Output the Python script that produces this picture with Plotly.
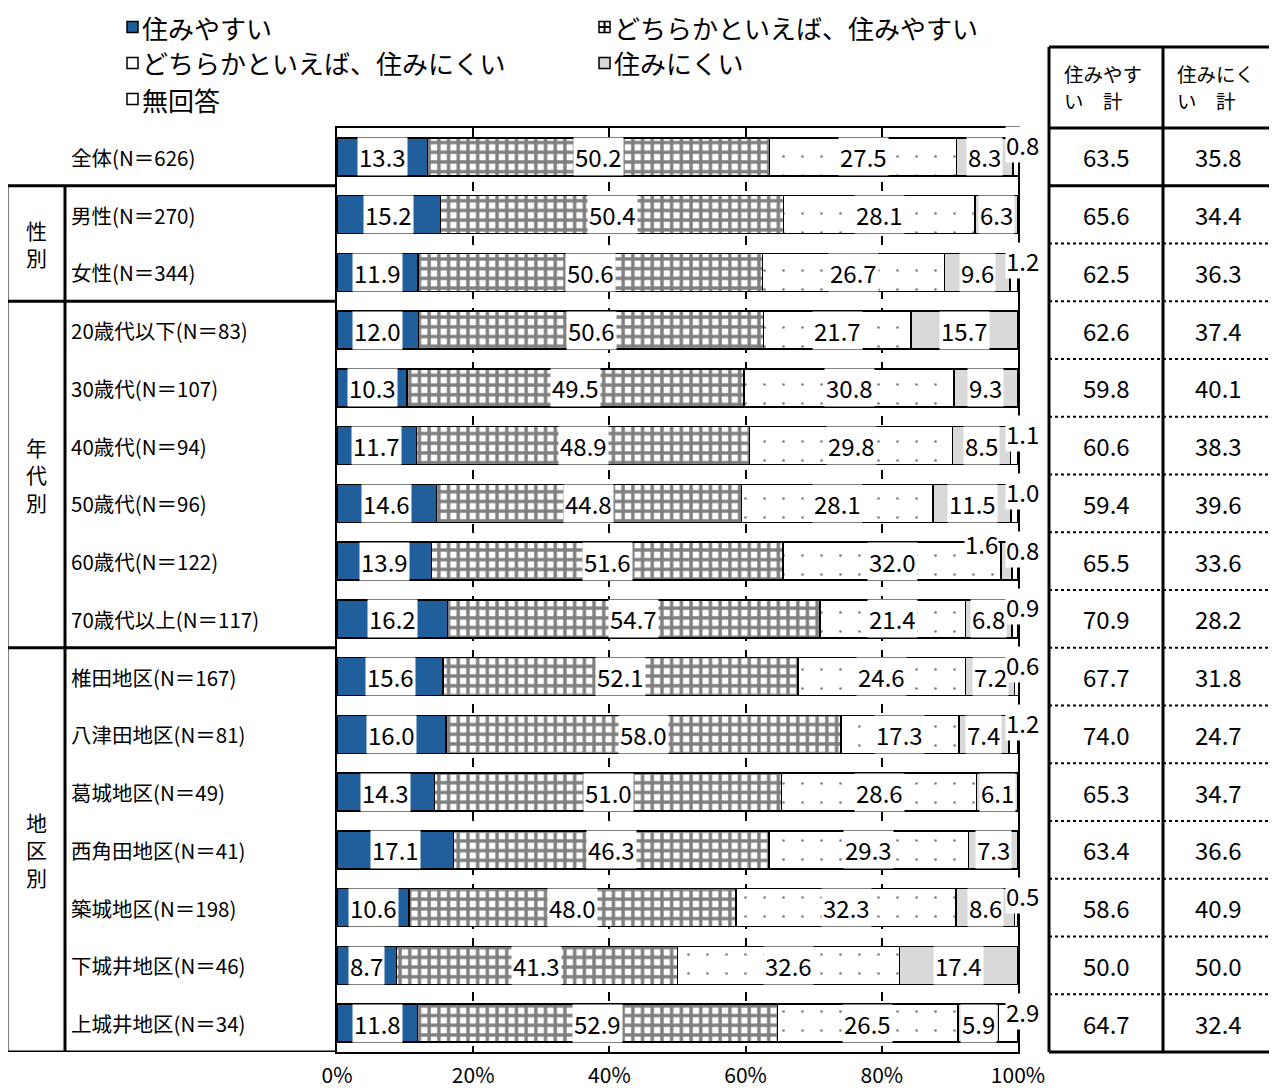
import plotly.graph_objects as go

# ---------------- data ----------------
categories = ["全体(N＝626)", "男性(N＝270)", "女性(N＝344)", "20歳代以下(N＝83)", "30歳代(N＝107)",
              "40歳代(N＝94)", "50歳代(N＝96)", "60歳代(N＝122)", "70歳代以上(N＝117)",
              "椎田地区(N＝167)", "八津田地区(N＝81)", "葛城地区(N＝49)", "西角田地区(N＝41)",
              "築城地区(N＝198)", "下城井地区(N＝46)", "上城井地区(N＝34)"]
series_names = ["住みやすい", "どちらかといえば、住みやすい", "どちらかといえば、住みにくい", "住みにくい", "無回答"]
v_easy = [13.3, 15.2, 11.9, 12.0, 10.3, 11.7, 14.6, 13.9, 16.2, 15.6, 16.0, 14.3, 17.1, 10.6, 8.7, 11.8]
v_rather_easy = [50.2, 50.4, 50.6, 50.6, 49.5, 48.9, 44.8, 51.6, 54.7, 52.1, 58.0, 51.0, 46.3, 48.0, 41.3, 52.9]
v_rather_hard = [27.5, 28.1, 26.7, 21.7, 30.8, 29.8, 28.1, 32.0, 21.4, 24.6, 17.3, 28.6, 29.3, 32.3, 32.6, 26.5]
v_hard = [8.3, 6.3, 9.6, 15.7, 9.3, 8.5, 11.5, 1.6, 6.8, 7.2, 7.4, 6.1, 7.3, 8.6, 17.4, 5.9]
v_none = [0.8, 0.0, 1.2, 0.0, 0.0, 1.1, 1.0, 0.8, 0.9, 0.6, 1.2, 0.0, 0.0, 0.5, 0.0, 2.9]
total_easy = [63.5, 65.6, 62.5, 62.6, 59.8, 60.6, 59.4, 65.5, 70.9, 67.7, 74.0, 65.3, 63.4, 58.6, 50.0, 64.7]
total_hard = [35.8, 34.4, 36.3, 37.4, 40.1, 38.3, 39.6, 33.6, 28.2, 31.8, 24.7, 34.7, 36.6, 40.9, 50.0, 32.4]
table_headers = [("住みやす", "い　計"), ("住みにく", "い　計")]
groups = [("性<br>別", 1, 2), ("年<br>代<br>別", 3, 8), ("地<br>区<br>別", 9, 15)]
x_ticks = [0, 20, 40, 60, 80, 100]
x_ticktext = ["0%", "20%", "40%", "60%", "80%", "100%"]

# ---------------- style ----------------
OFF = 8  # page body margin
W, H = 1277 - OFF, 1090 - OFF
PX0, PX1, PY0, PY1 = 337, 1018, 128, 1052   # plot area in screen pixels
JP = "Noto Sans CJK JP, Noto Sans, sans-serif"
NUM = "Noto Sans CJK JP, Noto Sans, sans-serif"
BLUE = "#215f9c"
GRAY = "#d9d9d9"


def px(x):
    return (x - PX0) / (PX1 - PX0)


def py(y):
    return (PY1 - y) / (PY1 - PY0)


series_vals = [v_easy, v_rather_easy, v_rather_hard, v_hard, v_none]
markers = [
    dict(color=BLUE, line=dict(color="black", width=1.5)),
    dict(color="white", line=dict(color="black", width=1.5),
         pattern=dict(shape="+", size=9.7, solidity=0.58, fgcolor="black", bgcolor="white")),
    dict(color="white", line=dict(color="black", width=1.5),
         pattern=dict(shape=".", size=19, solidity=0.016, fgcolor="black", bgcolor="white")),
    dict(color=GRAY, line=dict(color="black", width=1.5)),
    dict(color="white", line=dict(color="black", width=1.5)),
]

fig = go.Figure()
for name, vals, mk in zip(series_names, series_vals, markers):
    fig.add_trace(go.Bar(y=categories, x=vals, orientation="h", name=name, marker=mk,
                         width=0.66, showlegend=False, hoverinfo="skip"))

annotations = []
shapes = []

# value labels
cum = [0.0] * len(categories)
for s, vals in enumerate(series_vals):
    for i, v in enumerate(vals):
        start = cum[i]
        cum[i] += v
        if v <= 0:
            continue
        txt = f"{v:.1f}"
        base = dict(xref="x", yref="y", text=txt, showarrow=False, bgcolor="white",
                    font=dict(family=NUM, size=24, color="black"), yanchor="middle")
        if s == 4:
            annotations.append(dict(base, x=100, y=i, xanchor="left", xshift=-13, yshift=12, borderpad=0))
        elif v < 3:
            annotations.append(dict(base, x=start, y=i, xanchor="right", xshift=-2, yshift=18, borderpad=0))
        else:
            annotations.append(dict(base, x=start + v / 2, y=i, xanchor="center", borderpad=1))

# row labels
for i, c in enumerate(categories):
    annotations.append(dict(x=px(69), y=i, xref="paper", yref="y", text=c, showarrow=False,
                            xanchor="left", yanchor="middle", font=dict(family=JP, size=20.5, color="black")))

# group labels
for label, a, b in groups:
    annotations.append(dict(x=px(36), y=(a + b) / 2, xref="paper", yref="y", text=label, showarrow=False,
                            xanchor="center", yanchor="middle", font=dict(family=JP, size=21, color="black")))

# left table lines
for b in [0.5, 2.5, 8.5, 15.5]:
    shapes.append(dict(type="line", xref="paper", yref="y", x0=px(7), x1=px(PX0), y0=b, y1=b,
                       line=dict(color="black", width=3)))
for xv in [7, 65]:
    shapes.append(dict(type="line", xref="paper", yref="y", x0=px(xv), x1=px(xv), y0=0.5, y1=15.5,
                       line=dict(color="black", width=3)))

# right table
TX = [1049, 1163, 1274]
for xv in TX:
    shapes.append(dict(type="line", xref="paper", yref="paper", x0=px(xv), x1=px(xv), y0=py(47), y1=0,
                       line=dict(color="black", width=3)))
for yv in [py(47), 1.0, 0.0]:
    shapes.append(dict(type="line", xref="paper", yref="paper", x0=px(TX[0]), x1=px(TX[2]), y0=yv, y1=yv,
                       line=dict(color="black", width=3)))
shapes.append(dict(type="line", xref="paper", yref="y", x0=px(TX[0]), x1=px(TX[2]), y0=0.5, y1=0.5,
                   line=dict(color="black", width=3)))
for k in range(1, len(categories) - 1):
    b = k + 0.5
    shapes.append(dict(type="line", xref="paper", yref="y", x0=px(TX[0]), x1=px(TX[2]), y0=b, y1=b,
                       line=dict(color="black", width=2, dash="dot")))
col_centers = [(TX[0] + TX[1]) / 2, (TX[1] + TX[2]) / 2]
for (l1, l2), cx in zip(table_headers, col_centers):
    for txt, yy in [(l1, 74), (l2, 101)]:
        annotations.append(dict(x=px(cx - 43), y=py(yy), xref="paper", yref="paper", text=txt,
                                showarrow=False, xanchor="left", yanchor="middle", borderpad=0,
                                font=dict(family=JP, size=19.5, color="black")))
for i in range(len(categories)):
    for vals, cx in zip([total_easy, total_hard], col_centers):
        annotations.append(dict(x=px(cx), y=i, xref="paper", yref="y", text=f"{vals[i]:.1f}",
                                xanchor="center", yanchor="middle",
                                showarrow=False, font=dict(family=NUM, size=24, color="black")))

# legend (custom)
leg_pos = [(127, 27), (599, 27), (127, 63), (599, 63), (127, 99)]
for s, (name, (lx, ly)) in enumerate(zip(series_names, leg_pos)):
    fill = [BLUE, "white", "white", GRAY, "white"][s]
    shapes.append(dict(type="rect", xref="paper", yref="paper", x0=px(lx), x1=px(lx + 11),
                       y0=py(ly + 5.5), y1=py(ly - 5.5), fillcolor=fill, line=dict(color="black", width=1.5)))
    if s == 1:
        shapes.append(dict(type="line", xref="paper", yref="paper", x0=px(lx + 5.5), x1=px(lx + 5.5),
                           y0=py(ly + 5.5), y1=py(ly - 5.5), line=dict(color="black", width=2)))
        shapes.append(dict(type="line", xref="paper", yref="paper", x0=px(lx), x1=px(lx + 11),
                           y0=py(ly), y1=py(ly), line=dict(color="black", width=2)))
    annotations.append(dict(x=px(lx + 14), y=py(ly), xref="paper", yref="paper", text=name, showarrow=False,
                            xanchor="left", yanchor="middle", borderpad=0,
                            font=dict(family=JP, size=26, color="black")))

fig.update_layout(
    width=W, height=H, barmode="stack", bargap=0.34,
    margin=dict(l=PX0 - OFF, r=W - (PX1 - OFF), t=PY0 - OFF, b=H - (PY1 - OFF), pad=0, autoexpand=False),
    plot_bgcolor="white", paper_bgcolor="white",
    annotations=annotations, shapes=shapes,
    xaxis=dict(range=[0, 100], tickmode="array", tickvals=x_ticks, ticktext=x_ticktext,
               showgrid=True, gridcolor="black", automargin=False,
               griddash="dash", gridwidth=1.5, showline=True, mirror=True, linecolor="black", linewidth=2,
               zeroline=False, ticks="", ticklabelstandoff=4,
               tickfont=dict(family=NUM, size=21, color="black"), fixedrange=True),
    yaxis=dict(range=[15.5, -0.5], showticklabels=False, showgrid=False, showline=True, mirror=True,
               automargin=False,
               linecolor="black", linewidth=2, zeroline=False, ticks="", fixedrange=True),
)

fig.write_html("out.html")
